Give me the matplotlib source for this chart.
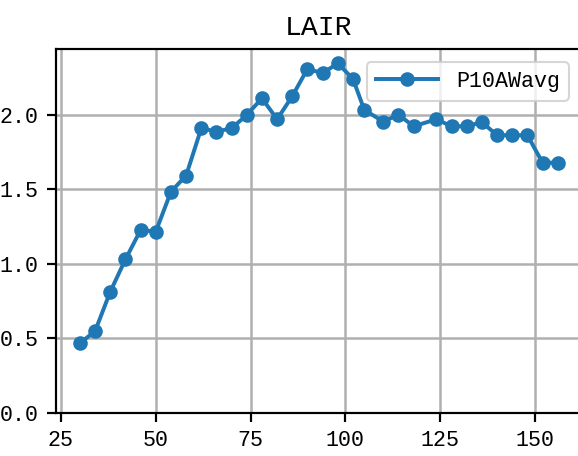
import matplotlib
matplotlib.use('Agg')
import matplotlib.pyplot as plt
from matplotlib.ticker import MultipleLocator

# LAIR 数据
x = [30, 34, 38, 42, 46, 50, 54, 58, 62, 66, 70, 74, 78, 82, 86, 90,
     94, 98, 102, 105, 110, 114, 118, 124, 128, 132, 136, 140, 144, 148, 152, 156]
p10awavg = [0.466, 0.548, 0.812, 1.029, 1.226, 1.215, 1.483, 1.591, 1.909, 1.886,
            1.909, 1.998, 2.110, 1.969, 2.124, 2.307, 2.278, 2.345, 2.240, 2.032,
            1.953, 2.000, 1.922, 1.969, 1.922, 1.922, 1.950, 1.862, 1.862, 1.862,
            1.678, 1.678]
series_name = 'P10AWavg'
title = 'LAIR'

plt.rcParams['font.family'] = ['Liberation Mono', 'DejaVu Sans']
plt.rcParams['font.size'] = 10.4
plt.rcParams['axes.unicode_minus'] = False

fig = plt.figure(figsize=(578 / 150, 456 / 150), dpi=150)
ax = fig.add_axes([0.0970, 0.0950, 0.9092, 0.797])

ax.plot(x, p10awavg, marker='o', markersize=6, markeredgewidth=1,
        linewidth=1.9, color='#1f77b4', label=series_name)
ax.set_ylim(bottom=0)
ax.xaxis.set_major_locator(MultipleLocator(25))
ax.yaxis.set_major_locator(MultipleLocator(0.5))
ax.set_title(title, fontsize=13.5, pad=7)

ax.grid(True, color='#b0b0b0', linewidth=1.2)
ax.set_axisbelow(True)
for sp in ax.spines.values():
    sp.set_linewidth(1.05)
ax.tick_params(length=4.5, width=1.05, pad=4)

ax.legend(loc='upper right', handlelength=2.85, handletextpad=0.85,
          borderaxespad=0.6)

fig.savefig('out.png', dpi=150)
